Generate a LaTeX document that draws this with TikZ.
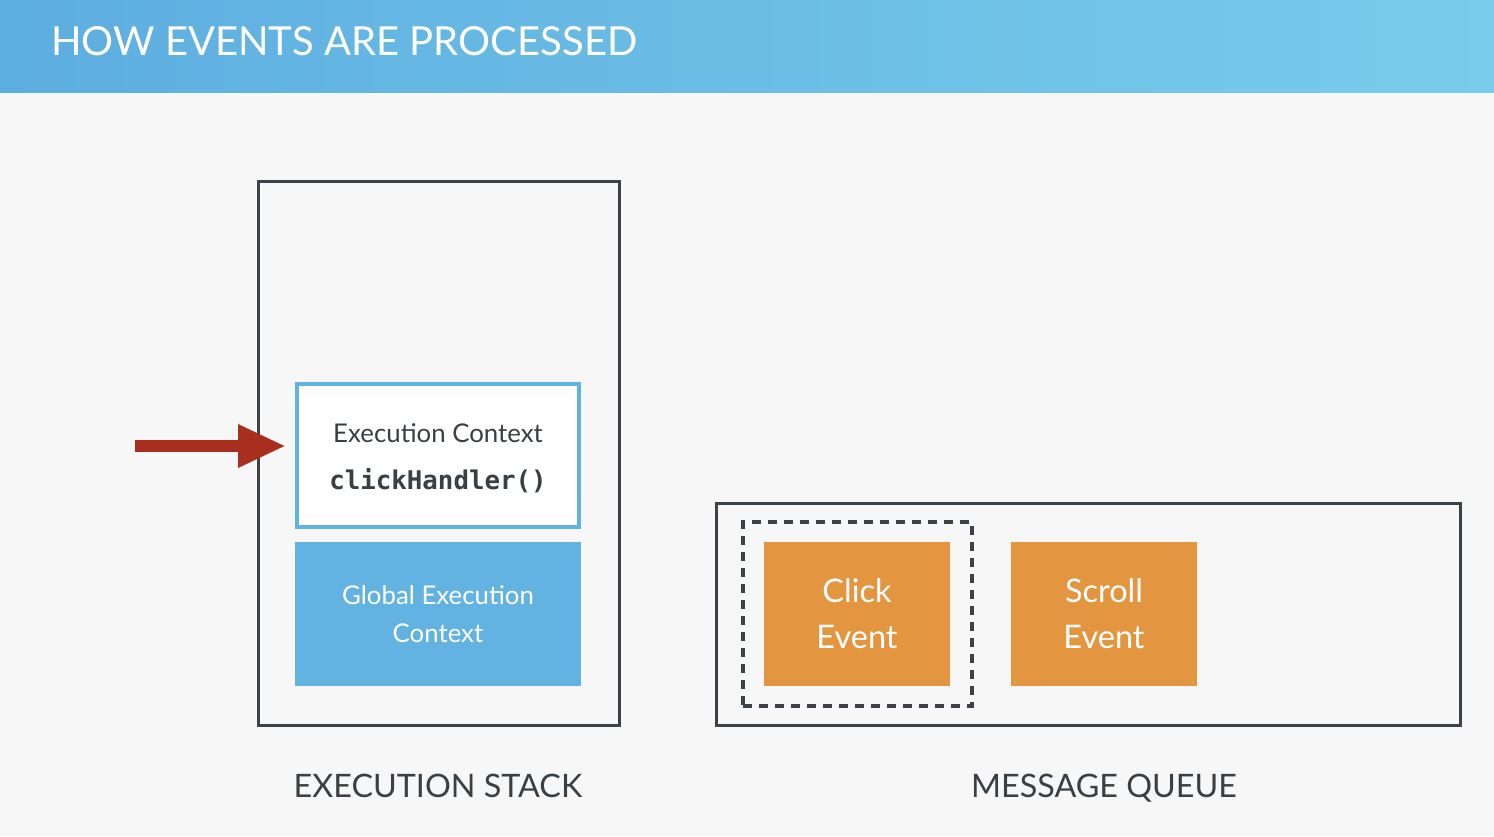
\documentclass[tikz,border=0pt]{standalone}
\usepackage{fontspec}
\setmainfont{Lato}
\newfontfamily\codefont{DejaVu Sans Mono}
\usetikzlibrary{arrows.meta}

\definecolor{pagebg}{HTML}{F7F7F7}
\definecolor{bandleft}{HTML}{5DAEE0}
\definecolor{bandright}{HTML}{79CCEB}
\definecolor{frame}{HTML}{3C4247}
\definecolor{ctxblue}{HTML}{62B3E2}
\definecolor{evorange}{HTML}{E3963F}
\definecolor{pointer}{HTML}{A82E1D}
\definecolor{inktext}{HTML}{3A3F44}

\tikzset{
  x=1pt, y=-1pt,
  container/.style={draw=frame, line width=3pt, minimum width=#1, inner sep=0pt},
  ctxframe/.style={draw=ctxblue, fill=white, line width=4pt, minimum width=282pt, minimum height=143pt, inner sep=0pt, align=center, text=inktext},
  ctxfill/.style={fill=ctxblue, minimum width=286pt, minimum height=144pt, inner sep=0pt, align=center, text=white,
    font=\fontsize{25.8}{38}\selectfont},
  eventbox/.style={fill=evorange, minimum width=186pt, minimum height=144pt, inner sep=0pt, align=center, text=white,
    font=\fontsize{32.5}{46}\selectfont},
  pickframe/.style={draw=frame, line width=3.5pt, dash pattern=on 9pt off 7pt, minimum width=229pt, minimum height=184pt, inner sep=0pt},
  caption/.style={text=inktext, font=\fontsize{32.3}{38}\selectfont},
  pointerarrow/.style={draw=pointer, line width=12pt, -{Triangle[length=48pt,width=40pt]}, shorten >=9pt},
}

\begin{document}
\begin{tikzpicture}
  \useasboundingbox (0,0) rectangle (1494,836);
  % page and title band
  \fill[pagebg] (0,0) rectangle (1494,836);
  \shade[left color=bandleft, right color=bandright] (0,0) rectangle (1494,92);
  \node[anchor=base west, inner sep=0pt, text=white, font=\fontsize{40}{46}\selectfont] (title) at (51,55) {HOW EVENTS ARE PROCESSED};

  % execution stack
  \node[container=361pt, minimum height=544pt] (stack) at (438.5,453) {};
  \node[ctxframe] (ec) at (438,455.5) {};
  \node[text=inktext, font=\fontsize{25.8}{30}\selectfont, anchor=base] (ectitle) at (438,442) {Execution Context};
  \node[text=inktext, font=\codefont\bfseries\fontsize{25.8}{30}\selectfont, anchor=base] (eccode) at (438,489) {clickHandler()};
  \node[ctxfill] (gec) at (438,614) {Global Execution\\Context};
  \node[caption, anchor=base] (stacklabel) at (438,797) {EXECUTION STACK};

  % pointer to the running context
  \coordinate (pstart) at (135,446);
  \draw[pointerarrow] (pstart) -- (pstart -| ec.west);

  % message queue
  \node[container=744pt, minimum height=222pt] (queue) at (1088,614) {};
  \node[pickframe] (pick) at (857.5,614) {};
  \node[eventbox] (click) at (857,614) {Click\\Event};
  \node[eventbox] (scroll) at (1104,614) {Scroll\\Event};
  \node[caption, anchor=base] (queuelabel) at (1104,797) {MESSAGE QUEUE};
\end{tikzpicture}
\end{document}
